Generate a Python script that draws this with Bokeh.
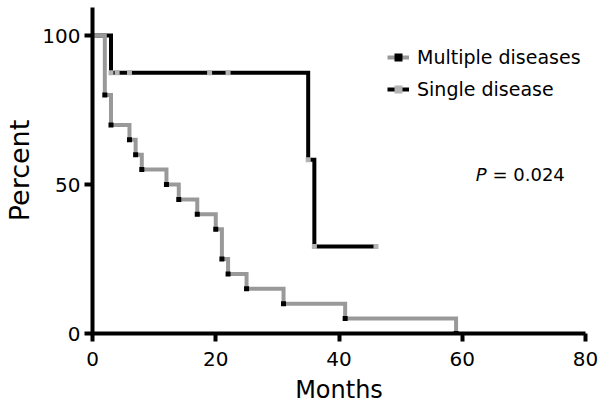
from bokeh.plotting import figure
from bokeh.models import Range1d, FixedTicker, Legend, LegendItem, Label
from bokeh.embed import file_html
from bokeh.resources import INLINE

# ---- data (Kaplan-Meier curves) ----
# Multiple diseases: survival steps (months, percent)
multi_months = [0, 2, 3, 6, 7, 8, 12, 14, 17, 20, 21, 22, 25, 31, 41, 59]
multi_percent = [100, 80, 70, 65, 60, 55, 50, 45, 40, 35, 25, 20, 15, 10, 5, 0]

# Single disease: survival steps (months, percent)
single_months = [0, 3, 35, 36, 46]
single_percent = [100, 87.5, 58.33, 29.17, 29.17]
# Single disease: symbols (events and censored points)
single_symbol_months = [3, 4, 6, 19, 22, 35, 36, 46]
single_symbol_percent = [87.5, 87.5, 87.5, 87.5, 87.5, 58.33, 29.17, 29.17]

x_ticks = [0, 20, 40, 60, 80]
y_ticks = [0, 50, 100]
series_names = ["Multiple diseases", "Single disease"]
p_label = "P"
p_value = "= 0.024"

FONT = "DejaVu Sans"
GRAY = "#999999"
LIGHT = "#b4b4b4"

p = figure(width=602, height=410,
           x_range=Range1d(0, 80), y_range=Range1d(0, 109.4),
           output_backend="svg", toolbar_location=None,
           min_border_left=92, min_border_right=17,
           min_border_top=7, min_border_bottom=77)
p.outline_line_color = None
p.grid.visible = False
p.background_fill_color = "white"
p.border_fill_color = "white"

p.xaxis.ticker = FixedTicker(ticks=x_ticks)
p.yaxis.ticker = FixedTicker(ticks=y_ticks)
for ax in (p.xaxis[0], p.yaxis[0]):
    ax.axis_line_width = 4
    ax.axis_line_color = "black"
    ax.major_tick_line_width = 4
    ax.major_tick_line_color = "black"
    ax.major_tick_out = 8
    ax.major_tick_in = 0
    ax.minor_tick_line_color = None
    ax.major_label_text_font = FONT
    ax.major_label_text_font_size = "20px"
    ax.major_label_text_color = "black"
    ax.axis_label_text_font = FONT
    ax.axis_label_text_font_style = "normal"
    ax.axis_label_text_color = "black"

p.xaxis.axis_label = "Months"
p.xaxis.axis_label_text_font_size = "24px"
p.xaxis.major_label_standoff = 10
p.xaxis.axis_label_standoff = 7
p.yaxis.axis_label = "Percent"
p.yaxis.axis_label_text_font_size = "27px"
p.yaxis.major_label_standoff = 4
p.yaxis.axis_label_standoff = 4

r_single_line = p.step(single_months, single_percent, mode="after",
                       line_color="black", line_width=4, line_join="miter")
r_multi_line = p.step(multi_months, multi_percent, mode="after",
                      line_color=GRAY, line_width=4, line_join="miter")
r_single_sym = p.scatter(single_symbol_months, single_symbol_percent, marker="square",
                         size=5, fill_color=LIGHT, line_color=None)
r_multi_sym = p.scatter(multi_months[1:], multi_percent[1:], marker="square",
                        size=5, fill_color="black", line_color=None)

legend = Legend(items=[
    LegendItem(label=series_names[0], renderers=[r_multi_line, r_multi_sym]),
    LegendItem(label=series_names[1], renderers=[r_single_line, r_single_sym]),
], location=(295, 233), glyph_width=22, glyph_height=20, label_height=20,
    label_standoff=8, spacing=10, padding=0, margin=0,
    border_line_color=None, background_fill_alpha=0,
    label_text_font=FONT, label_text_font_size="19px", label_text_color="black")
p.add_layout(legend)

p.add_layout(Label(x=62.2, y=53.2, text=p_label, text_font=FONT, text_font_style="italic",
                   text_font_size="18px", text_baseline="middle", text_color="black"))
p.add_layout(Label(x=64.9, y=53.2, text=p_value, text_font=FONT,
                   text_font_size="18px", text_baseline="middle", text_color="black"))

open("out.html", "w").write(file_html(p, INLINE))
